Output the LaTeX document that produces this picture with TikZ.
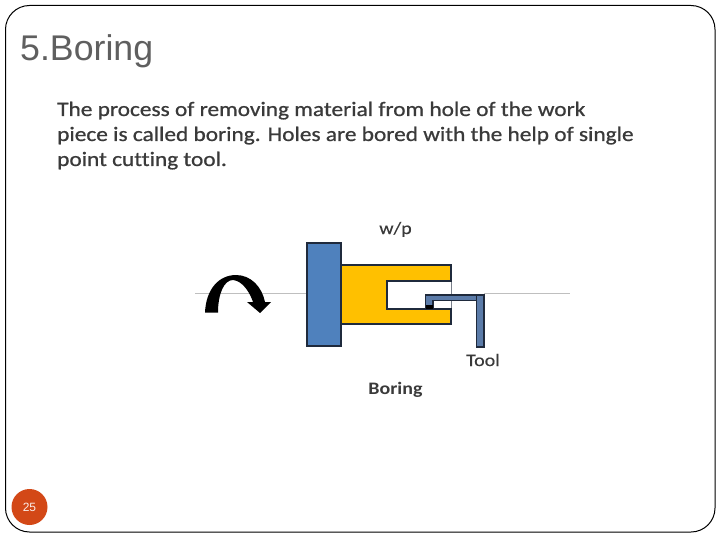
\documentclass[tikz,border=0pt]{standalone}
\usepackage{fontspec}
\setmainfont{Liberation Sans}
\newfontfamily\carl[FakeStretch=1.135,FakeBold=0.8,Ligatures=NoCommon]{Carlito}
\newfontfamily\carll[FakeStretch=1.14,FakeBold=0.3,Ligatures=NoCommon]{Carlito}
\newfontfamily\carlb[FakeStretch=1.14,Ligatures=NoCommon]{Carlito Bold}
\definecolor{plate}{HTML}{4F81BD}
\definecolor{toolblue}{HTML}{5B7BA8}
\definecolor{work}{HTML}{FFC000}
\definecolor{edge}{HTML}{1F2A3C}
\definecolor{titlegrey}{HTML}{5F5F5F}
\definecolor{badge}{HTML}{D34817}
\definecolor{txt}{HTML}{3A3A3A}
\tikzset{
  part/.style={draw=edge,line width=1.5pt,line join=miter},
  body/.style={anchor=base west,inner sep=0pt,font=\carl\fontsize{20.55}{24}\selectfont,text=txt},
  small/.style={anchor=base,inner sep=0pt,font=\carll\fontsize{17.5}{19}\selectfont,text=txt},
  axis/.style={draw=black!25,line width=1pt}
}
\begin{document}
\begin{tikzpicture}[x=1pt,y=-1pt]
\useasboundingbox (0,0) rectangle (720,540);
\fill[white] (0,0) rectangle (720,540);
\draw[black,line width=1pt,rounded corners=24pt] (5.5,5.5) rectangle (715,532);
\node[anchor=base west,inner sep=0pt,font=\fontsize{35.7}{40}\selectfont,text=titlegrey] (title) at (20,60.5) {5.Boring};
\node[body] (l1) at (57,116) {The process of removing material from hole of the work};
\node[body] (l2) at (57,141) {piece is called boring. Holes are bored with the help of single};
\node[body] (l3) at (57,166) {point cutting tool.};
% axis
\draw[axis] (195,293) -- (307,293);
\draw[axis] (484,293) -- (570,293);
% workpiece
\fill[work] (340,265) rectangle (451,324);
\fill[white] (388,282) rectangle (451,308);
\draw[edge!60,line width=0.6pt] (451,281) -- (451,309);
\draw[part] (340,265) -- (451,265) -- (451,281) -- (387,281) -- (387,309) -- (451,309) -- (451,324) -- (340,324);
% plate
\draw[part,fill=plate] (307,243) rectangle (341,346);
% tool
\draw[part,fill=toolblue,line width=1.3pt] (425.5,295) -- (484,295) -- (484,347) -- (476.5,347) -- (476.5,300.5) -- (433,300.5) -- (433,308.5) -- (425.5,308.5) -- cycle;
\draw[edge,line width=1.3pt] (476.5,300.5) -- (476.5,295);
\fill[black] (426,305) rectangle (433,309);
% rotation arrow
\fill[black] (205,312.5) .. controls (206,289) and (219,275) .. (236,275)
  .. controls (251,275) and (262,287) .. (265,302) -- (271,302) -- (260,313) -- (247,302) -- (253,302)
  .. controls (250,293) and (243,281) .. (233,280)
  .. controls (224,280) and (218,294) .. (218,312.5) -- cycle;
% labels
\node[small] (wp) at (395.5,234) {w/p};
\node[small] (tool) at (483,366) {Tool};
\node[anchor=base,inner sep=0pt,font=\carlb\fontsize{17.5}{20}\selectfont,text=txt] (cap) at (395.5,394) {Boring};
% badge
\node[circle,fill=badge,minimum size=36pt,inner sep=0pt,text=white!90!badge,font=\fontsize{12}{14}\selectfont] (num) at (29.5,507) {25};
\end{tikzpicture}
\end{document}
